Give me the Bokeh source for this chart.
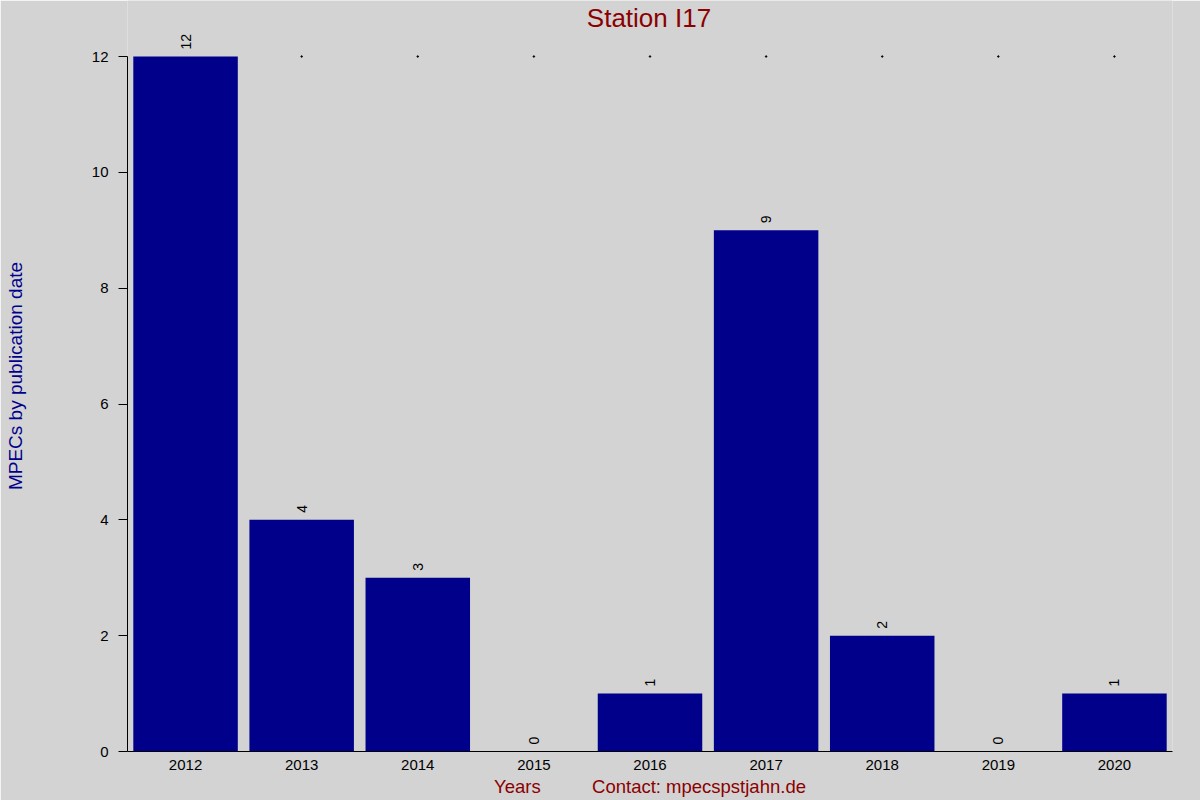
from bokeh.plotting import figure
from bokeh.models import ColumnDataSource, FactorRange, Range1d, FixedTicker, Label
from bokeh.core.properties import value
from bokeh.embed import file_html
from bokeh.resources import INLINE

years = ["2012", "2013", "2014", "2015", "2016", "2017", "2018", "2019", "2020"]
counts = [12, 4, 3, 0, 1, 9, 2, 0, 1]
y_ticks = [0, 2, 4, 6, 8, 10, 12]
title_text = "Station I17"
y_label = "MPECs by publication date"
x_label = "Years"
contact = "Contact: mpecspstjahn.de"

FONT = "Liberation Sans"
BG = "#D3D3D3"

W, H = 1200, 800
B_LEFT, B_RIGHT, B_TOP, B_BOTTOM = 127, 28, 0, 49
FRAME_H = H - B_TOP - B_BOTTOM
TOP_GAP = 56  # pixels between frame top and the y-axis maximum
y_max = max(counts)
y_end = y_max * FRAME_H / (FRAME_H - TOP_GAP)

src = ColumnDataSource(dict(
    years=years,
    counts=counts,
    labels=[str(c) for c in counts],
))
dot_years = [yr for yr, c in zip(years, counts) if c < y_max]
dot_src = ColumnDataSource(dict(years=dot_years, top=[y_max] * len(dot_years)))

p = figure(
    width=W, height=H,
    x_range=FactorRange(factors=years, range_padding=0),
    y_range=Range1d(0, y_end),
    output_backend="svg", toolbar_location=None,
    min_border_left=B_LEFT, min_border_right=B_RIGHT,
    min_border_top=B_TOP, min_border_bottom=B_BOTTOM,
)
p.background_fill_color = BG
p.border_fill_color = BG
p.outline_line_color = None
p.grid.grid_line_color = None

# small dots at the top of each category
p.scatter(x="years", y="top", source=dot_src, size=1.5, color="black")

p.vbar(x="years", top="counts", width=0.9, source=src, fill_color="#00008B", line_color=None)

p.text(x="years", y="counts", text="labels", source=src, angle=1.5708,
       text_align="left", text_baseline="middle", y_offset=-7,
       text_font=value(FONT), text_font_size="14px", text_color="black")

# title as a label inside the (extended) frame
frame_w = W - B_LEFT - B_RIGHT
p.add_layout(Label(x=frame_w / 2 - 1, y=FRAME_H - 17, x_units="screen", y_units="screen",
                   text=title_text, text_align="center", text_baseline="middle",
                   text_font=FONT, text_font_size="26px", text_color="#8B0000"))

# x axis
p.xaxis.major_tick_out = 0
p.xaxis.major_tick_in = 0
p.xaxis.minor_tick_out = 0
p.xaxis.axis_line_color = "black"
p.xaxis.major_label_text_font = FONT
p.xaxis.major_label_text_font_size = "15px"
p.xaxis.major_label_text_color = "black"
p.xaxis.major_label_standoff = 8
p.xaxis.axis_label = x_label + "\u00a0" * 10 + contact
p.xaxis.axis_label_text_font = FONT
p.xaxis.axis_label_text_font_size = "18.5px"
p.xaxis.axis_label_text_font_style = "normal"
p.xaxis.axis_label_text_color = "#8B0000"
p.xaxis.axis_label_standoff = 3

# y axis
p.yaxis.ticker = FixedTicker(ticks=y_ticks)
p.yaxis.bounds = (0, y_max)
p.yaxis.major_tick_out = 9
p.yaxis.major_tick_in = 0
p.yaxis.minor_tick_out = 0
p.yaxis.minor_tick_in = 0
p.yaxis.axis_line_color = "black"
p.yaxis.major_label_text_font = FONT
p.yaxis.major_label_text_font_size = "15px"
p.yaxis.major_label_text_color = "black"
p.yaxis.major_label_standoff = 10
p.yaxis.axis_label = y_label
p.yaxis.axis_label_text_font = FONT
p.yaxis.axis_label_text_font_size = "19px"
p.yaxis.axis_label_text_font_style = "normal"
p.yaxis.axis_label_text_color = "#00008B"
p.yaxis.axis_label_text_line_height = 0.9
p.yaxis.axis_label_standoff = 63

open("out.html", "w").write(file_html(p, INLINE))
